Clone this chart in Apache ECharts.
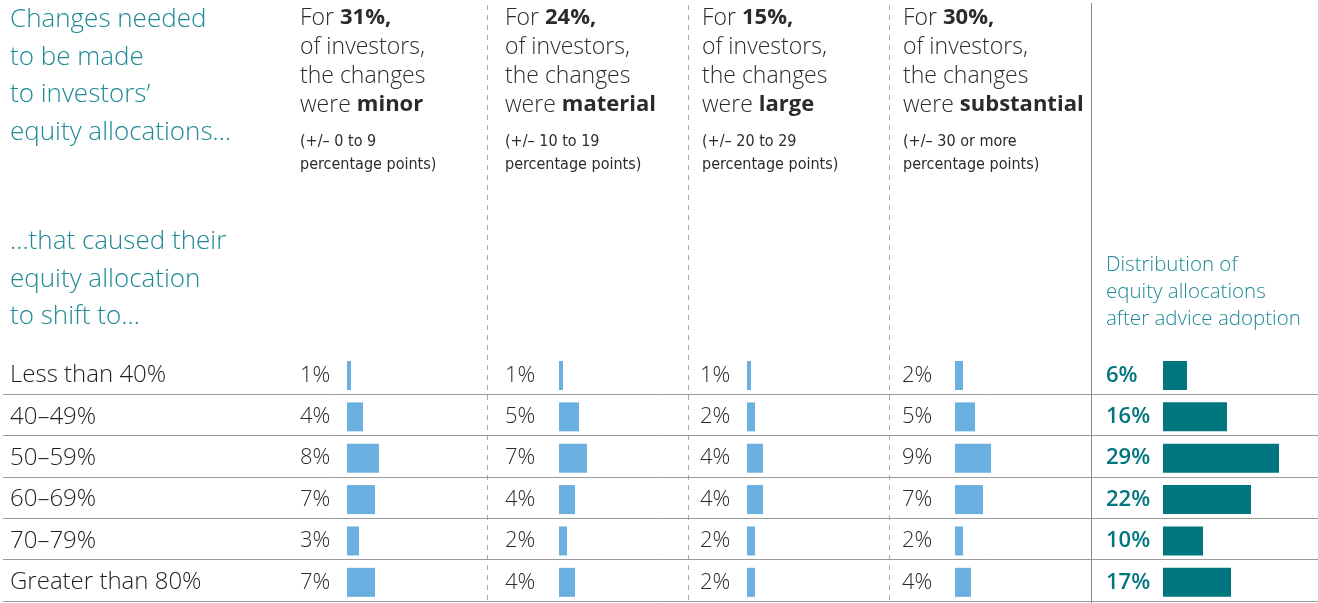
<!DOCTYPE html>
<html><head><meta charset="utf-8">
<script src="https://cdn.jsdelivr.net/npm/echarts@6/dist/echarts.min.js"></script>
<style>html,body{margin:0;padding:0;background:#fff}#c{width:1318px;height:603px}</style>
</head><body><div id="c"></div>
<script>
// ---- data ----
const categories = ['Less than 40%', '40–49%', '50–59%', '60–69%', '70–79%', 'Greater than 80%'];
const minorValues = [1, 4, 8, 7, 3, 7];
const materialValues = [1, 5, 7, 4, 2, 4];
const largeValues = [1, 2, 4, 4, 2, 2];
const substantialValues = [2, 5, 9, 7, 2, 4];
const distributionValues = [6, 16, 29, 22, 10, 17];
const groupShares = [31, 24, 15, 30];
const groupNames = ['minor', 'material', 'large', 'substantial'];
const groupRanges = ['0 to 9', '10 to 19', '20 to 29', '30 or more'];
const leftTitle1 = ['Changes needed', 'to be made', 'to investors’', 'equity allocations…'];
const leftTitle2 = ['…that caused their', 'equity allocation', 'to shift to…'];
const distTitle = ['Distribution of', 'equity allocations', 'after advice adoption'];

// ---- layout ----
const FONT = '"Open Sans", Roboto, sans-serif';
const LIGHT = 300;
const NARROW = '"Liberation Sans Narrow", "DejaVu Sans Condensed", Roboto, sans-serif';
const TEAL_TEXT = '#1f8a96';
const TEAL_BAR = '#00767f';
const BLUE = '#69b0e1';
const TEXT = '#2b2b2b';
const barLeft = [347, 559, 747, 955, 1163];
const labelX = [300, 505, 700, 902, 1106];
const headerX = [300, 505, 702, 903];
const LINE_TOP = 352.5, H = 248.5, BAR_TOP = 354.8;
const allValues = [minorValues, materialValues, largeValues, substantialValues, distributionValues];

const grid = [], xAxis = [], yAxis = [], series = [];
allValues.forEach((vals, i) => {
  const last = i === 4;
  grid.push({ left: barLeft[i], top: BAR_TOP, width: 120, height: H });
  xAxis.push({ type: 'value', gridIndex: i, min: 0, max: 30, show: false });
  yAxis.push({
    type: 'category', gridIndex: i, data: categories, inverse: true,
    axisLine: { show: false }, axisTick: { show: false }, splitLine: { show: false },
    axisLabel: {
      margin: barLeft[i] - labelX[i], align: 'left',
      formatter: (v, idx) => vals[idx] + '%',
      color: last ? TEAL_BAR : TEXT, fontSize: 22, fontFamily: FONT,
      fontWeight: last ? 600 : LIGHT
    }
  });
  series.push({
    type: 'bar', xAxisIndex: i, yAxisIndex: i, data: vals, barWidth: 29, silent: true,
    itemStyle: { color: last ? TEAL_BAR : BLUE }
  });
});
// grid 5: row separators
grid.push({ left: 3, right: 0, top: LINE_TOP, height: H });
xAxis.push({ type: 'value', gridIndex: 5, min: 0, max: 1, show: false });
yAxis.push({
  type: 'value', gridIndex: 5, min: 0, max: categories.length, interval: 1, inverse: true,
  axisLine: { show: false }, axisTick: { show: false }, axisLabel: { show: false },
  splitLine: { show: true, showMinLine: false, lineStyle: { color: '#9a9a9a', width: 1 } }
});
// grid 6: row labels
grid.push({ left: 3, right: 0, top: BAR_TOP, height: H });
xAxis.push({ type: 'value', gridIndex: 6, min: 0, max: 1, show: false });
yAxis.push({
  type: 'category', gridIndex: 6, data: categories, inverse: true,
  axisLine: { show: false }, axisTick: { show: false }, splitLine: { show: false },
  axisLabel: { inside: true, margin: 7, align: 'left', color: '#1e1e1e', fontSize: 24, fontFamily: FONT, fontWeight: LIGHT }
});

const title = [];
title.push({ left: 10, top: 1, padding: 0, text: leftTitle1.join('\n'),
  textStyle: { fontSize: 26, lineHeight: 37.5, color: TEAL_TEXT, fontWeight: LIGHT, fontFamily: FONT } });
title.push({ left: 10, top: 223, padding: 0, text: leftTitle2.join('\n'),
  textStyle: { fontSize: 26, lineHeight: 37.5, color: TEAL_TEXT, fontWeight: LIGHT, fontFamily: FONT } });
title.push({ left: 1106, top: 252, padding: 0, text: distTitle.join('\n'),
  textStyle: { fontSize: 20.5, lineHeight: 27, color: TEAL_TEXT, fontWeight: LIGHT, fontFamily: FONT } });
groupShares.forEach((s, i) => {
  title.push({ left: headerX[i], top: 3.5, padding: 0,
    text: 'For {b|' + s + '%,}\nof investors,\nthe changes\nwere {b|' + groupNames[i] + '}',
    textStyle: { fontSize: 23, lineHeight: 29, color: TEXT, fontWeight: LIGHT, fontFamily: FONT,
      rich: { b: { fontSize: 22, lineHeight: 29, color: TEXT, fontWeight: 'bold', fontFamily: FONT } } } });
  title.push({ left: headerX[i], top: 130, padding: 0,
    text: '(+/– ' + groupRanges[i] + '\npercentage points)',
    textStyle: { fontSize: 16, lineHeight: 23, color: TEXT, fontWeight: 'normal', fontFamily: NARROW } });
});

const graphic = [];
[487.5, 688.5, 889.5].forEach(x => graphic.push({ type: 'line', silent: true,
  shape: { x1: x, y1: 5, x2: x, y2: 600 }, style: { stroke: '#aaaaaa', lineWidth: 1, lineDash: [5, 5] } }));
graphic.push({ type: 'line', silent: true, shape: { x1: 1091.5, y1: 3, x2: 1091.5, y2: 603 },
  style: { stroke: '#888888', lineWidth: 1 } });

const chart = echarts.init(document.getElementById('c'), null, { renderer: 'canvas' });
chart.setOption({ animation: false, backgroundColor: '#fff', title, grid, xAxis, yAxis, series, graphic });
</script></body></html>
